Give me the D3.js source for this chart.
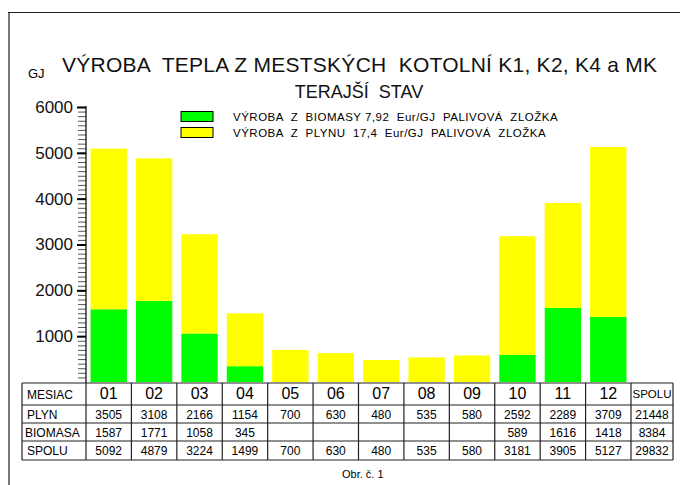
<!DOCTYPE html>
<html>
<head>
<meta charset="utf-8">
<script src="https://cdn.jsdelivr.net/npm/d3@7"></script>
<style>
  html, body { margin: 0; padding: 0; background: #fff; }
  svg { display: block; font-family: "Liberation Sans", Arial, sans-serif; }
</style>
</head>
<body>
<div id="graf"></div>
<script>
// dáta z tabuľky
const mesiace = ["01", "02", "03", "04", "05", "06", "07", "08", "09", "10", "11", "12"];
const plyn = [3505, 3108, 2166, 1154, 700, 630, 480, 535, 580, 2592, 2289, 3709];
const biomasa = [1587, 1771, 1058, 345, null, null, null, null, null, 589, 1616, 1418];
const spolu = [5092, 4879, 3224, 1499, 700, 630, 480, 535, 580, 3181, 3905, 5127];
const spoluRok = [21448, 8384, 29832];
const yTicks = [1000, 2000, 3000, 4000, 5000, 6000];
const legenda = [
  { nazov: "VÝROBA  Z  BIOMASY 7,92  Eur/GJ  PALIVOVÁ  ZLOŽKA", farba: "#00ff00" },
  { nazov: "VÝROBA  Z  PLYNU  17,4  Eur/GJ  PALIVOVÁ  ZLOŽKA", farba: "#ffff00" },
];

const width = 680;
const height = 485;

const svg = d3
  .select("#graf")
  .append("svg")
  .attr("width", width)
  .attr("height", height);

// rámik
svg.append("line").attr("x1", 9).attr("x2", 9).attr("y1", 12).attr("y2", height)
  .attr("stroke", "#777").attr("stroke-width", 2);
svg.append("line").attr("x1", 8).attr("x2", width).attr("y1", 12.5).attr("y2", 12.5)
  .attr("stroke", "#222").attr("stroke-width", 1);

// nadpis
svg.append("text").attr("x", 28).attr("y", 78).attr("font-size", 13).text("GJ");
svg.append("text").attr("x", 62).attr("y", 72).attr("font-size", 21)
  .attr("letter-spacing", 0.25).attr("fill", "#111")
  .style("white-space", "pre")
  .text("VÝROBA  TEPLA Z MESTSKÝCH  KOTOLNÍ K1, K2, K4 a MK");
svg.append("text").attr("x", 359).attr("y", 98).attr("font-size", 18).attr("fill", "#111")
  .attr("text-anchor", "middle").style("white-space", "pre").text("TERAJŠÍ  STAV");

// škály
const x = d3.scaleBand().domain(mesiace).range([86, 631])
  .paddingInner(0.2).paddingOuter(0.1);
const y = d3.scaleLinear().domain([0, 6000]).range([382, 107]);

// stĺpce
const data = mesiace.map((m, i) => ({ mesiac: m, biomasa: biomasa[i] || 0, plyn: plyn[i] }));
const stack = d3.stack().keys(["biomasa", "plyn"]);
const farby = { biomasa: "#00ff00", plyn: "#ffff00" };

svg.append("g")
  .selectAll("g")
  .data(stack(data))
  .join("g")
  .attr("fill", (s) => farby[s.key])
  .selectAll("rect")
  .data((s) => s)
  .join("rect")
  .attr("x", (d) => x(d.data.mesiac))
  .attr("width", x.bandwidth())
  .attr("y", (d) => y(d[1]))
  .attr("height", (d) => y(d[0]) - y(d[1]));

// os y - malé dieliky po 100
const osMale = svg.append("g").attr("transform", "translate(86,0)")
  .call(d3.axisLeft(y).tickValues(d3.range(100, 6001, 100)).tickSize(8).tickFormat(""));
osMale.select(".domain").remove();
osMale.selectAll(".tick line").attr("stroke", "#555");

const os = svg.append("g").attr("transform", "translate(86,0)")
  .call(d3.axisLeft(y).tickValues(yTicks).tickSize(9).tickPadding(4).tickFormat(d3.format("d")));
os.select(".domain").remove();
os.selectAll(".tick line").attr("stroke", "#000").attr("stroke-width", 2);
os.selectAll(".tick text").attr("font-size", 17).attr("fill", "#111")
  .attr("font-family", "'Liberation Sans', Arial, sans-serif");

svg.append("line").attr("x1", 86).attr("x2", 86).attr("y1", 106).attr("y2", 383)
  .attr("stroke", "#000").attr("stroke-width", 1.2);

// legenda
const leg = svg.append("g").selectAll("g").data(legenda).join("g")
  .attr("transform", (d, i) => `translate(181,${111.5 + i * 16})`);
leg.append("rect").attr("width", 32).attr("height", 10)
  .attr("fill", (d) => d.farba).attr("stroke", "#000").attr("stroke-width", 1);
leg.append("text").attr("x", 52).attr("y", 9).attr("font-size", 11.5)
  .attr("letter-spacing", 0.5)
  .style("white-space", "pre").text((d) => d.nazov);

// tabuľka
const krok = x.step();
const okraj = (m) => x(m) - x.paddingOuter() * krok;
const stlpce = [22].concat(mesiace.map(okraj), [631, 673]);
const riadky = [383, 405, 423, 441, 460];

const tab = svg.append("g").attr("stroke", "#222").attr("stroke-width", 1.2);
tab.selectAll(".h").data(riadky).join("line")
  .attr("x1", 22).attr("x2", 673).attr("y1", (d) => d).attr("y2", (d) => d);
tab.selectAll(".v").data(stlpce).join("line")
  .attr("x1", (d) => d).attr("x2", (d) => d).attr("y1", 383).attr("y2", 460);

const nazvyRiadkov = ["MESIAC", "PLYN", "BIOMASA", "SPOLU"];
const baseline = [399, 418.5, 436.5, 455];
svg.append("g").selectAll("text").data(nazvyRiadkov).join("text")
  .attr("x", (d) => (d === "BIOMASA" ? 25 : 27))
  .attr("y", (d, i) => baseline[i])
  .attr("font-size", 12).text((d) => d);

const stred = (m) => x(m) + x.bandwidth() / 2;
svg.append("g").selectAll("text").data(mesiace).join("text")
  .attr("x", stred).attr("y", baseline[0]).attr("font-size", 16)
  .attr("text-anchor", "middle").text((d) => d);

[plyn, biomasa, spolu].forEach((rad, r) => {
  svg.append("g").selectAll("text").data(rad).join("text")
    .attr("x", (d, i) => stred(mesiace[i])).attr("y", baseline[r + 1])
    .attr("font-size", 12).attr("text-anchor", "middle")
    .text((d) => (d == null ? "" : d));
});

svg.append("text").attr("x", 652).attr("y", baseline[0] - 1).attr("font-size", 11.5)
  .attr("text-anchor", "middle").text("SPOLU");
svg.append("g").selectAll("text").data(spoluRok).join("text")
  .attr("x", 652).attr("y", (d, i) => baseline[i + 1]).attr("font-size", 12)
  .attr("text-anchor", "middle").text((d) => d);

svg.append("text").attr("x", 342).attr("y", 478).attr("font-size", 11).text("Obr. č. 1");
</script>
</body>
</html>
